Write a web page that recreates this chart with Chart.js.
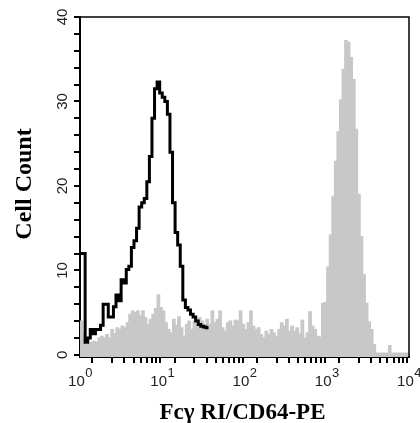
<!DOCTYPE html>
<html>
<head>
<meta charset="utf-8">
<script src="https://cdn.jsdelivr.net/npm/chart.js@4"></script>
<style>
body { margin: 0; background: #fff; }
</style>
</head>
<body>
<canvas id="myChart" width="420" height="423"></canvas>
<script>
// histogram channels: 32 per decade, 4 decades (10^0 .. 10^4)
var binsPerDecade = 32;
var decades = 4;

// filled grey histogram (counts per channel)
var grayCounts = [
  4.0, 2.5, 1.2, 1.3, 1.5, 1.6, 1.5, 2.0, 2.2, 2.0,
  2.4, 2.0, 3.0, 2.5, 3.2, 3.0, 3.4, 3.2, 3.8, 4.8,
  5.2, 5.0, 5.2, 4.6, 5.2, 4.4, 3.6, 4.2, 4.8, 5.5,
  7.1, 5.6, 5.2, 3.8, 3.0, 2.6, 4.2, 3.5, 4.5, 3.2,
  2.2, 3.6, 4.0, 3.0, 4.0, 3.6, 4.4, 4.0, 3.6, 4.2,
  3.6, 5.2, 3.8, 4.2, 5.2, 3.2, 2.8, 3.8, 4.0, 3.4,
  4.1, 4.0, 5.2, 3.6, 3.0, 3.8, 5.2, 3.4, 3.0, 3.2,
  2.4, 2.0, 2.8, 2.4, 3.0, 2.6, 2.2, 3.0, 3.8, 3.4,
  4.2, 2.8, 3.4, 2.8, 3.2, 2.5, 4.1, 2.0, 2.6, 5.1,
  3.4, 3.0, 2.2, 2.1, 6.1, 6.2, 10.4, 14.2, 18.7, 22.9,
  26.4, 30.2, 33.8, 37.2, 37.0, 35.2, 32.6, 26.7, 19.0, 14.0,
  9.5, 6.1, 3.9, 3.0, 1.2, 0.2, 0.2, 0.2, 0.2, 0.2,
  1.1, 0.2, 0.2, 0.2, 0.2, 0.2, 0.2, 0.2
];

// black outline histogram (first channels only)
var blackCounts = [
  12, 12, 1.5, 2.0, 3.0, 2.5, 3.0, 3.0, 3.5, 6.0,
  6.0, 4.5, 4.5, 5.7, 7.1, 6.4, 8.9, 8.5, 10.1, 10.5,
  12.7, 13.5, 15, 17.5, 18, 18.5, 20.5, 23.5, 28, 31.5,
  32.3, 31, 30.5, 30, 28.5, 24, 18, 14.5, 13, 10.5,
  6.5, 5.6, 5.3, 4.8, 4.5, 4.0, 3.6, 3.4, 3.3, 3.2
];

var yTickLabels = ['0', '10', '20', '30', '40'];
var xTickBase = '10';
var xTickExponents = ['0', '1', '2', '3', '4'];
var xTitle = 'Fcγ RI/CD64-PE';
var yTitle = 'Cell Count';

var yMin = -0.25, yMax = 40;

// channel centres for the grey bars
function toBars(counts) {
  return counts.map(function (v, i) {
    return { x: Math.pow(10, (i + 0.5) / binsPerDecade), y: v };
  });
}

// each channel becomes a flat top from its left edge to its right edge
function toSteps(counts) {
  var pts = [];
  for (var i = 0; i < counts.length; i++) {
    pts.push({ x: Math.pow(10, i / binsPerDecade), y: counts[i] });
    pts.push({ x: Math.pow(10, (i + 1) / binsPerDecade), y: counts[i] });
  }
  return pts;
}

var decorations = {
  id: 'decorations',
  afterDraw: function (chart) {
    var c = chart.ctx, a = chart.chartArea;
    var xs = chart.scales.x, ys = chart.scales.y;
    c.save();
    // top and right frame
    c.strokeStyle = '#000';
    c.lineWidth = 1.5;
    c.beginPath();
    c.moveTo(a.left, a.top);
    c.lineTo(a.right, a.top);
    c.lineTo(a.right, a.bottom);
    c.stroke();

    // rotated y tick labels
    c.fillStyle = '#222';
    c.font = '15px "Liberation Sans"';
    c.textAlign = 'center';
    c.textBaseline = 'alphabetic';
    yTickLabels.forEach(function (t) {
      c.save();
      c.translate(a.left - 13, ys.getPixelForValue(Number(t)));
      c.rotate(-Math.PI / 2);
      c.fillText(t, 0, 0);
      c.restore();
    });

    // x tick labels 10^n
    c.textAlign = 'left';
    xTickExponents.forEach(function (e) {
      var px = xs.getPixelForValue(Math.pow(10, Number(e)));
      c.font = '15px "Liberation Sans"';
      var w1 = c.measureText(xTickBase).width;
      c.font = '13px "Liberation Sans"';
      var w2 = c.measureText(e).width;
      var x0 = px - (w1 + w2) / 2;
      c.font = '15px "Liberation Sans"';
      c.fillText(xTickBase, x0, a.bottom + 29);
      c.font = '13px "Liberation Sans"';
      c.fillText(e, x0 + w1 + 0.5, a.bottom + 20);
    });

    // axis titles
    c.fillStyle = '#000';
    c.textAlign = 'center';
    c.font = 'bold 23px "Liberation Serif"';
    c.fillText(xTitle, (a.left + a.right) / 2 - 2, a.bottom + 62);
    c.save();
    c.translate(31, (a.top + a.bottom) / 2 - 3);
    c.rotate(-Math.PI / 2);
    c.font = 'bold 24px "Liberation Serif"';
    c.fillText(yTitle, 0, 0);
    c.restore();
    c.restore();
  }
};

var axisGrid = { drawOnChartArea: false, drawTicks: true, tickLength: 6, color: '#000', lineWidth: 2 };
var axisBorder = { display: true, color: '#000', width: 2 };

var ctx = document.getElementById('myChart').getContext('2d');
var myChart = new Chart(ctx, {
  type: 'line',
  data: {
    datasets: [
      {
        type: 'line',
        data: toSteps(blackCounts),
        borderColor: '#000',
        borderWidth: 3,
        borderJoinStyle: 'miter',
        tension: 0,
        pointRadius: 0,
        fill: false
      },
      {
        type: 'bar',
        data: toBars(grayCounts),
        base: yMin,
        backgroundColor: 'rgb(200,200,200)',
        borderWidth: 0,
        barPercentage: 1,
        categoryPercentage: 1,
        inflateAmount: 0.6
      }
    ]
  },
  options: {
    responsive: false,
    animation: false,
    layout: { padding: { left: 80, top: 17, right: 11, bottom: 66 } },
    plugins: { legend: { display: false }, tooltip: { enabled: false } },
    scales: {
      x: {
        type: 'logarithmic',
        min: 1,
        max: Math.pow(10, decades),
        offset: false,
        afterFit: function (s) { s.height = 0; },
        afterBuildTicks: function (s) {
          var t = [];
          for (var e = 0; e < decades; e++) {
            for (var d = 1; d < 10; d++) t.push({ value: d * Math.pow(10, e) });
          }
          t.push({ value: Math.pow(10, decades) });
          s.ticks = t;
        },
        ticks: { display: false },
        grid: axisGrid,
        border: axisBorder
      },
      y: {
        min: yMin,
        max: yMax,
        afterFit: function (s) { s.width = 0; },
        afterBuildTicks: function (s) {
          var t = [];
          for (var v = 0; v <= yMax; v += 2) t.push({ value: v });
          s.ticks = t;
        },
        ticks: { display: false },
        grid: axisGrid,
        border: axisBorder
      }
    }
  },
  plugins: [decorations]
});
</script>
</body>
</html>
